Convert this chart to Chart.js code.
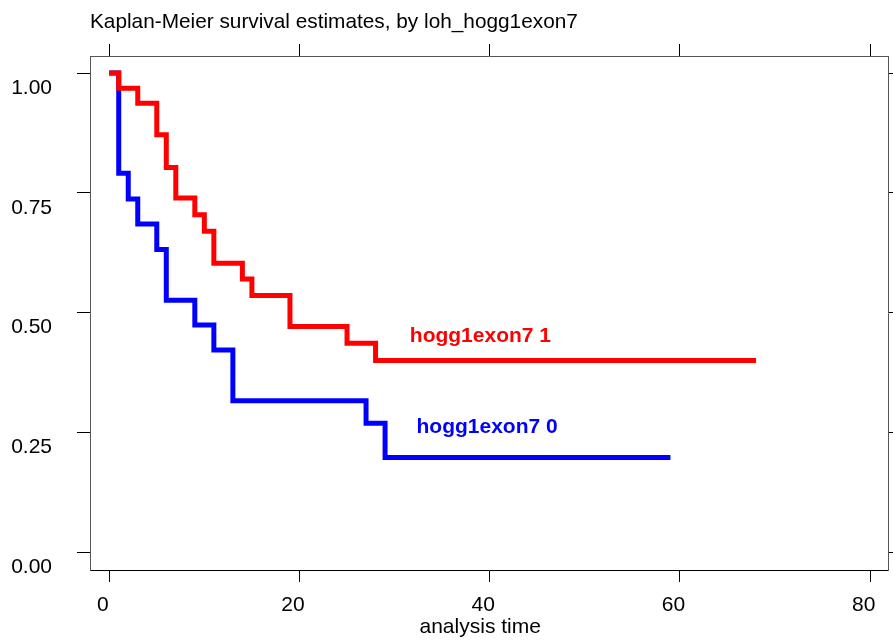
<!DOCTYPE html>
<html><head><meta charset="utf-8">
<script src="https://cdn.jsdelivr.net/npm/chart.js@4"></script>
<style>html,body{margin:0;padding:0;background:#fff}canvas{display:block}</style>
</head><body>
<canvas id="c" width="893" height="642"></canvas>
<script>
const chartTitle = 'Kaplan-Meier survival estimates, by loh_hogg1exon7';
const xAxisTitle = 'analysis time';
const xTickValues = [0, 20, 40, 60, 80];
const yTickValues = [0, 0.25, 0.5, 0.75, 1];
const seriesNames = ['hogg1exon7 1', 'hogg1exon7 0'];
const seriesColors = ['#ff0000', '#0000ff'];
const timesGroup1 = [0, 1, 3, 5, 6, 7, 9, 10, 11, 14, 15, 19, 25, 28, 68];
const survGroup1 = [1, 0.968, 0.937, 0.871, 0.803, 0.739, 0.704, 0.670, 0.603, 0.570, 0.536, 0.471, 0.436, 0.400, 0.400];
const timesGroup0 = [0, 1, 2, 3, 5, 6, 9, 11, 13, 27, 29, 59];
const survGroup0 = [1, 0.791, 0.737, 0.685, 0.632, 0.526, 0.474, 0.422, 0.316, 0.269, 0.198, 0.198];
const labelTimes = [31.6, 32.3];
const labelSurv = [0.439, 0.248];
const xAxisTitleCenter = 39;

const FONT = "'Liberation Sans', Arial, Helvetica, sans-serif";

function pts(t, s) { return t.map((v, i) => ({x: v, y: s[i]})); }

const bgPlugin = {
  id: 'bg',
  beforeDraw(chart) {
    const ctx = chart.ctx;
    ctx.save(); ctx.fillStyle = '#fff'; ctx.fillRect(0, 0, chart.width, chart.height); ctx.restore();
  }
};

const textPlugin = {
  id: 'texts',
  afterDraw(chart) {
    const ctx = chart.ctx, xs = chart.scales.x, ys = chart.scales.y;
    ctx.save();
    ctx.fillStyle = '#000';
    ctx.font = '20.8px ' + FONT;
    ctx.textBaseline = 'alphabetic';
    ctx.textAlign = 'left';
    ctx.fillText(chartTitle, chart.chartArea.left, 28);
    ctx.font = '21px ' + FONT;
    ctx.textAlign = 'center';
    ctx.textBaseline = 'middle';
    ctx.fillText(xAxisTitle, xs.getPixelForValue(xAxisTitleCenter), 627);
    ctx.textAlign = 'left';
    ctx.textBaseline = 'alphabetic';
    ctx.font = 'bold 21px ' + FONT;
    seriesNames.forEach((n, i) => {
      ctx.fillStyle = seriesColors[i];
      ctx.fillText(n, xs.getPixelForValue(labelTimes[i]), ys.getPixelForValue(labelSurv[i]));
    });
    ctx.restore();
  }
};

const commonGrid = {drawOnChartArea: false, drawTicks: true, color: '#000', tickColor: '#000', lineWidth: 1};

new Chart(document.getElementById('c'), {
  type: 'line',
  data: {
    datasets: [
      {label: seriesNames[0], data: pts(timesGroup1, survGroup1), borderColor: seriesColors[0], borderWidth: 5,
       stepped: true, pointRadius: 0, fill: false, borderJoinStyle: 'miter', borderCapStyle: 'butt'},
      {label: seriesNames[1], data: pts(timesGroup0, survGroup0), borderColor: seriesColors[1], borderWidth: 5,
       stepped: true, pointRadius: 0, fill: false, borderJoinStyle: 'miter', borderCapStyle: 'butt'}
    ]
  },
  options: {
    responsive: false,
    animation: false,
    layout: {padding: 0},
    plugins: {legend: {display: false}, tooltip: {enabled: false}, title: {display: false}},
    scales: {
      x: {
        type: 'linear', position: 'bottom', min: -2.02, max: 81.92,
        afterBuildTicks: s => { s.ticks = xTickValues.map(v => ({value: v})); },
        afterFit: s => { s.height = 72; },
        grid: Object.assign({}, commonGrid, {tickLength: 12}),
        border: {display: true, color: '#000', width: 1},
        ticks: {color: '#000', font: {family: FONT, size: 21}, padding: 11, labelOffset: -6.5, maxRotation: 0, autoSkip: false,
                callback: v => String(v)},
        title: {display: false}
      },
      y: {
        type: 'linear', position: 'left', min: -0.037, max: 1.0355,
        afterBuildTicks: s => { s.ticks = yTickValues.map(v => ({value: v})); },
        afterFit: s => { s.width = 90; },
        grid: Object.assign({}, commonGrid, {tickLength: 13}),
        border: {display: true, color: '#555', width: 1},
        ticks: {color: '#000', font: {family: FONT, size: 21}, padding: 25, labelOffset: 15, autoSkip: false,
                callback: v => Number(v).toFixed(2)}
      },
      x2: {
        type: 'linear', position: 'top', min: -2.02, max: 81.92, display: true,
        afterBuildTicks: s => { s.ticks = xTickValues.map(v => ({value: v})); },
        afterFit: s => { s.height = 56; },
        grid: Object.assign({}, commonGrid, {tickLength: 12}),
        border: {display: true, color: '#555', width: 1},
        ticks: {display: false}
      },
      y2: {
        type: 'linear', position: 'right', min: -0.037, max: 1.0355, display: true,
        afterBuildTicks: s => { s.ticks = yTickValues.map(v => ({value: v})); },
        afterFit: s => { s.width = 2; },
        grid: Object.assign({}, commonGrid, {tickLength: 13}),
        border: {display: true, color: '#555', width: 1},
        ticks: {display: false}
      }
    }
  },
  plugins: [bgPlugin, textPlugin]
});
</script>
</body></html>
